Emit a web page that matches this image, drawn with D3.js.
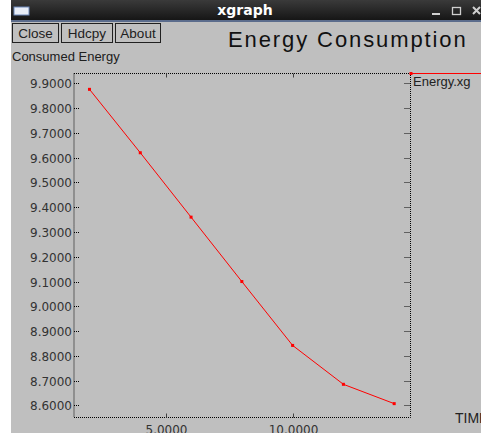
<!DOCTYPE html>
<html>
<head>
<meta charset="utf-8">
<script src="https://cdn.jsdelivr.net/npm/d3@7"></script>
<style>
  html, body { margin: 0; padding: 0; background: #ffffff; }
  svg { display: block; }
  text { font-family: "Liberation Sans", Arial, sans-serif; }
</style>
</head>
<body>
<svg id="chart" width="481" height="433"></svg>
<script>
// data
var times = [2, 4, 6, 8, 10, 12, 14];
var energy = [9.876, 9.62, 9.36, 9.10, 8.842, 8.685, 8.607];
var yTicks = [9.9, 9.8, 9.7, 9.6, 9.5, 9.4, 9.3, 9.2, 9.1, 9.0, 8.9, 8.8, 8.7, 8.6];
var xTicks = [5, 10];
var buttons = ['Close', 'Hdcpy', 'About'];

var svg = d3.select('#chart');

// window background
svg.append('rect')
    .attr('x', 11).attr('y', 0)
    .attr('width', 470).attr('height', 433)
    .attr('fill', '#bfbfbf');

// title bar
var grad = svg.append('defs').append('linearGradient')
    .attr('id', 'bar').attr('x1', 0).attr('y1', 0).attr('x2', 0).attr('y2', 1);
grad.append('stop').attr('offset', '0%').attr('stop-color', '#3a3a3a');
grad.append('stop').attr('offset', '100%').attr('stop-color', '#141414');
svg.append('rect')
    .attr('x', 11).attr('y', 0).attr('width', 470).attr('height', 21)
    .attr('fill', 'url(#bar)');
svg.append('rect')
    .attr('x', 11).attr('y', 20).attr('width', 470).attr('height', 2)
    .attr('fill', '#5b6c8c');
// window icon
svg.append('rect')
    .attr('x', 14).attr('y', 7).attr('width', 15).attr('height', 8)
    .attr('fill', '#e8eef8').attr('stroke', '#6a86b8').attr('stroke-width', 1);
svg.append('text')
    .attr('x', 245).attr('y', 15)
    .attr('text-anchor', 'middle')
    .attr('fill', '#ffffff')
    .attr('font-weight', 'bold')
    .attr('font-size', 14)
    .style('font-family', 'DejaVu Sans, sans-serif')
    .text('xgraph');
// window controls
svg.append('rect').attr('x', 432).attr('y', 13).attr('width', 8).attr('height', 2).attr('fill', '#cfcfcf');
svg.append('rect').attr('x', 452.5).attr('y', 7.5).attr('width', 8).attr('height', 7)
    .attr('fill', 'none').attr('stroke', '#cfcfcf').attr('stroke-width', 1.3);
svg.append('path').attr('d', 'M473,7 L480,14 M480,7 L473,14')
    .attr('stroke', '#cfcfcf').attr('stroke-width', 2);

// buttons
var bx = [12, 61, 115], bw = [46, 51, 45];
var btn = svg.selectAll('g.btn').data(buttons).enter().append('g').attr('class', 'btn');
btn.append('rect')
    .attr('x', function (d, i) { return bx[i] + 0.5; })
    .attr('y', 23.5)
    .attr('width', function (d, i) { return bw[i]; })
    .attr('height', 19)
    .attr('fill', '#c0c0c0')
    .attr('stroke', '#202020');
btn.append('text')
    .attr('x', function (d, i) { return bx[i] + 0.5 + bw[i] / 2; })
    .attr('y', 38)
    .attr('text-anchor', 'middle')
    .attr('font-size', 13.5)
    .attr('fill', '#202020')
    .text(function (d) { return d; });

// titles
svg.append('text')
    .attr('x', 228).attr('y', 47)
    .attr('font-size', 22)
    .attr('letter-spacing', 1.9)
    .attr('fill', '#111')
    .text('Energy Consumption');
svg.append('text')
    .attr('x', 12).attr('y', 61)
    .attr('font-size', 13)
    .attr('fill', '#202020')
    .text('Consumed Energy');

// scales
var x = d3.scaleLinear().domain([1.39, 14.65]).range([74, 410.7]);
var y = d3.scaleLinear().domain([8.549, 9.942]).range([418, 73]);

var pLeft = 74, pRight = 410.5, pTop = 73.5, pBottom = 417.5;

// dotted frame
var dotted = '1,1';
svg.append('rect')
    .attr('x', pLeft).attr('y', pTop)
    .attr('width', pRight - pLeft).attr('height', pBottom - pTop)
    .attr('fill', 'none')
    .attr('stroke', '#000')
    .attr('stroke-dasharray', dotted);

// y ticks, both sides
yTicks.forEach(function (v) {
    var yy = Math.round(y(v)) + 0.5;
    svg.append('line').attr('x1', pLeft).attr('x2', pLeft + 6).attr('y1', yy).attr('y2', yy)
        .attr('stroke', '#000').attr('stroke-dasharray', dotted);
    svg.append('line').attr('x1', pRight - 6).attr('x2', pRight).attr('y1', yy).attr('y2', yy)
        .attr('stroke', '#000').attr('stroke-dasharray', dotted);
    svg.append('text')
        .attr('x', 72).attr('y', yy + 4.5)
        .attr('text-anchor', 'end')
        .attr('font-size', 12)
        .attr('fill', '#333')
        .style('font-family', 'DejaVu Sans, sans-serif')
        .text(d3.format('.4f')(v));
});

// x ticks, top and bottom
xTicks.forEach(function (v) {
    var xx = Math.round(x(v)) + 0.5;
    svg.append('line').attr('x1', xx).attr('x2', xx).attr('y1', pTop).attr('y2', pTop + 4)
        .attr('stroke', '#444');
    svg.append('line').attr('x1', xx).attr('x2', xx).attr('y1', pBottom - 4).attr('y2', pBottom)
        .attr('stroke', '#444');
    svg.append('text')
        .attr('x', xx).attr('y', 434)
        .attr('text-anchor', 'middle')
        .attr('font-size', 12)
        .attr('fill', '#333')
        .style('font-family', 'DejaVu Sans, sans-serif')
        .text(d3.format('.4f')(v));
});

svg.append('text')
    .attr('x', 455).attr('y', 423)
    .attr('font-size', 14)
    .attr('fill', '#222')
    .text('TIME');

// series
var pts = times.map(function (t, i) { return [t, energy[i]]; });
var line = d3.line().x(function (d) { return x(d[0]); }).y(function (d) { return y(d[1]); });
svg.append('path')
    .attr('d', line(pts))
    .attr('fill', 'none')
    .attr('stroke', '#ff0000')
    .attr('stroke-width', 1);
svg.selectAll('rect.pt').data(pts).enter().append('rect')
    .attr('class', 'pt')
    .attr('x', function (d) { return x(d[0]) - 1.5; })
    .attr('y', function (d) { return y(d[1]) - 1.5; })
    .attr('width', 3).attr('height', 3)
    .attr('fill', '#ff0000');

// legend
svg.append('line')
    .attr('x1', pRight).attr('x2', 481).attr('y1', pTop).attr('y2', pTop)
    .attr('stroke', '#ff0000');
svg.append('rect').attr('x', pRight - 1).attr('y', pTop - 1.5).attr('width', 3).attr('height', 3)
    .attr('fill', '#ff0000');
svg.append('text')
    .attr('x', 413).attr('y', 86)
    .attr('font-size', 13)
    .attr('fill', '#222')
    .text('Energy.xg');
</script>
</body>
</html>
